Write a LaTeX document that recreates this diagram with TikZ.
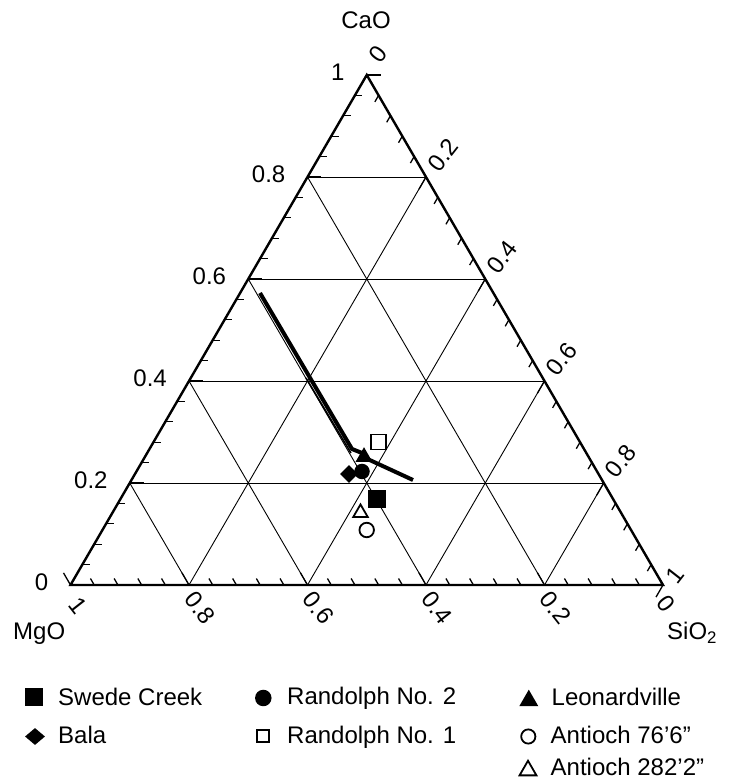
\documentclass[tikz,border=0pt]{standalone}
\usepackage{fontspec}
\setmainfont{Liberation Sans}
\usetikzlibrary{calc,shapes.geometric}
\begin{document}
\begin{tikzpicture}[x=1pt,y=1pt,
  lbl/.style={font=\fontsize{24}{28}\selectfont, inner sep=0pt},
  edge/.style={line width=2.4pt, line join=miter},
  gridline/.style={line width=0.9pt},
  tick/.style={line width=1.3pt},
  trend/.style={line width=4pt, line join=round},
  fsq/.style={rectangle, fill=black, inner sep=0pt, minimum size=#1},
  osq/.style={rectangle, draw=black, line width=1.8pt, inner sep=0pt, minimum size=#1},
  fci/.style={circle, fill=black, inner sep=0pt, minimum size=#1},
  oci/.style={circle, draw=black, line width=1.8pt, inner sep=0pt, minimum size=#1},
  fdi/.style 2 args={diamond, fill=black, inner sep=0pt, minimum width=#1, minimum height=#2},
  ftri/.style={regular polygon, regular polygon sides=3, fill=black, inner sep=0pt, minimum size=#1},
  otri/.style={regular polygon, regular polygon sides=3, draw=black, line width=1.8pt, inner sep=0pt, minimum size=#1},
]
\useasboundingbox (0,0) rectangle (730,780);

% corners
\coordinate (A) at (70.5,195);   % MgO
\coordinate (B) at (663,195);    % SiO2
\coordinate (C) at (366.75,705); % CaO

% grid
\foreach \v in {0.2,0.4,0.6,0.8}{
  \draw[gridline] ($(A)!\v!(C)$) -- ($(B)!\v!(C)$);
  \draw[gridline] ($(B)!\v!(A)$) -- ($(C)!\v!(A)$);
  \draw[gridline] ($(A)!\v!(B)$) -- ($(C)!\v!(B)$);
}

% ticks
\foreach \i in {0,...,25}{
  \pgfmathsetmacro\t{\i/25}
  \pgfmathsetmacro\len{ifthenelse(mod(\i,5)==0,14,7.5)}
  \draw[tick] ($(A)!\t!(C)$) -- ++(\len,0);
  \draw[tick] ($(B)!\t!(A)$) -- ++(120:\len);
  \draw[tick] ($(C)!\t!(B)$) -- ++(240:\len);
}

% frame
\draw[edge] (A) -- (B) -- (C) -- cycle;

% left (CaO) labels
\foreach \v/\s [count=\k] in {0/0,0.2/0.2,0.4/0.4,0.6/0.6,0.8/0.8,1/1}{
  \node[lbl, anchor=east] (cl\k) at ($(A)!\v!(C)+(-22,3)$) {\s};
}

% right (SiO2) labels
\node[lbl, rotate=52] (sl0) at ($(C)+(11,21)$) {0};
\foreach \v/\s [count=\k] in {0.2/0.2,0.4/0.4,0.6/0.6,0.8/0.8}{
  \node[lbl, rotate=52] (sl\k) at ($(C)!\v!(B)+(17,22)$) {\s};
}
\node[lbl, rotate=52] (sl5) at ($(B)+(12,10)$) {1};

% bottom (MgO) labels
\node[lbl, rotate=-52] (ml0) at ($(A)+(8,-21)$) {1};
\foreach \v/\s [count=\k] in {0.2/0.8,0.4/0.6,0.6/0.4,0.8/0.2}{
  \node[lbl, rotate=-52] (ml\k) at ($(A)!\v!(B)+(11,-23)$) {\s};
}
\node[lbl, rotate=-52] (ml5) at ($(B)+(3,-19)$) {0};

% axis names
\node[lbl, anchor=base] (cao) at (366,751) {CaO};
\node[lbl, anchor=base west] (mgo) at (13,140) {MgO};
\node[lbl, anchor=base west] (sio) at (667,140) {SiO\textsubscript{2}};

% trend lines
\coordinate (t1) at (260,487);
\coordinate (t2) at (352,331);
\coordinate (t3) at (362,327);
\coordinate (t4) at (361,324);
\coordinate (t5) at (413,300);
\coordinate (t6) at (306,402);
\coordinate (t7) at (351,327);
\draw[trend] (t1) -- (t2) -- (t3);
\draw[trend] (t4) -- (t5);
\draw[line width=1.6pt] (t6) -- (t7);

% data points
\node[osq=15] (p-rand1) at (378.3,338) {};
\node[ftri=19.6] (p-leon) at (364,323) {};
\node[fdi={18}{18}] (p-bala) at (349,306) {};
\node[fci=15.5] (p-rand2) at (362,308.5) {};
\node[fsq=18] (p-swede) at (377,281) {};
\node[otri=16.7] (p-ant282) at (360.5,267.2) {};
\node[oci=14.5] (p-ant76) at (366.7,250) {};

% legend
\node[fsq=18] (k-swede) at (34,83) {};
\node[lbl, anchor=base west] (l-swede) at (58,74) {Swede Creek};
\node[fdi={20}{17}] (k-bala) at (35,43.5) {};
\node[lbl, anchor=base west] (l-bala) at (58,36) {Bala};
\node[fci=16.5] (k-rand2) at (263.3,82) {};
\node[lbl, anchor=base west] (l-rand2) at (287,75) {Randolph No. 2};
\node[osq=12.5] (k-rand1) at (263,44) {};
\node[lbl, anchor=base west] (l-rand1) at (287,36) {Randolph No. 1};
\node[ftri=22] (k-leon) at (528.8,79.3) {};
\node[lbl, anchor=base west] (l-leon) at (551.5,74) {Leonardville};
\node[oci=14.2] (k-ant76) at (528.3,43.5) {};
\node[lbl, anchor=base west] (l-ant76) at (550.5,36) {Antioch 76’6”};
\node[otri=19.5] (k-ant282) at (528,9.5) {};
\node[lbl, anchor=base west] (l-ant282) at (550.5,4.5) {Antioch 282’2”};
\end{tikzpicture}
\end{document}
